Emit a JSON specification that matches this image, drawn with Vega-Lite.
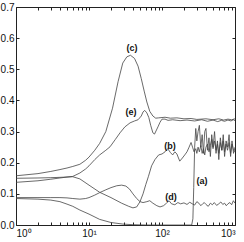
{
  "$schema": "https://vega.github.io/schema/vega-lite/v6.json",
  "width": 219,
  "height": 218,
  "autosize": "none",
  "padding": {"left": 16, "top": 7, "right": 9, "bottom": 17},
  "config": {
    "view": {"stroke": "#222", "strokeWidth": 1},
    "axis": {"labelFont": "Liberation Sans", "labelFontSize": 10, "labelColor": "#111", "tickColor": "#222", "grid": false, "domain": false, "title": null}
  },
  "datasets": {
    "lines": [
      {"s":"a","x":1,"y":0.085},{"s":"a","x":2,"y":0.083},{"s":"a","x":3,"y":0.08},{"s":"a","x":4,"y":0.075},{"s":"a","x":5,"y":0.067},{"s":"a","x":6,"y":0.06},{"s":"a","x":7.5,"y":0.048},{"s":"a","x":10,"y":0.035},{"s":"a","x":14,"y":0.018},{"s":"a","x":20,"y":0.008},{"s":"a","x":29,"y":0.003},{"s":"a","x":40,"y":0.001},{"s":"a","x":60,"y":0},{"s":"a","x":100,"y":0},{"s":"a","x":200,"y":0},{"s":"a","x":255,"y":0},{"s":"a","x":265,"y":0.02},{"s":"a","x":272,"y":0.12},{"s":"a","x":280,"y":0.25},{"s":"a","x":290,"y":0.31},{"s":"a","x":300,"y":0.27},{"s":"a","x":312,"y":0.3},{"s":"a","x":325,"y":0.32},{"s":"a","x":340,"y":0.25},{"s":"a","x":355,"y":0.29},{"s":"a","x":370,"y":0.23},{"s":"a","x":385,"y":0.3},{"s":"a","x":400,"y":0.31},{"s":"a","x":420,"y":0.24},{"s":"a","x":440,"y":0.28},{"s":"a","x":460,"y":0.22},{"s":"a","x":480,"y":0.29},{"s":"a","x":500,"y":0.25},{"s":"a","x":525,"y":0.3},{"s":"a","x":550,"y":0.23},{"s":"a","x":575,"y":0.27},{"s":"a","x":600,"y":0.21},{"s":"a","x":630,"y":0.28},{"s":"a","x":660,"y":0.24},{"s":"a","x":690,"y":0.29},{"s":"a","x":720,"y":0.22},{"s":"a","x":755,"y":0.27},{"s":"a","x":790,"y":0.25},{"s":"a","x":830,"y":0.29},{"s":"a","x":870,"y":0.22},{"s":"a","x":910,"y":0.27},{"s":"a","x":955,"y":0.23},{"s":"a","x":1000,"y":0.25},
      {"s":"b","x":1,"y":0.137},{"s":"b","x":2,"y":0.142},{"s":"b","x":3,"y":0.147},{"s":"b","x":4,"y":0.151},{"s":"b","x":5,"y":0.154},{"s":"b","x":6,"y":0.155},{"s":"b","x":7.5,"y":0.148},{"s":"b","x":10,"y":0.128},{"s":"b","x":14,"y":0.105},{"s":"b","x":20,"y":0.088},{"s":"b","x":28,"y":0.07},{"s":"b","x":35,"y":0.06},{"s":"b","x":40,"y":0.055},{"s":"b","x":45,"y":0.058},{"s":"b","x":50,"y":0.075},{"s":"b","x":55,"y":0.1},{"s":"b","x":60,"y":0.13},{"s":"b","x":65,"y":0.155},{"s":"b","x":72,"y":0.19},{"s":"b","x":80,"y":0.21},{"s":"b","x":90,"y":0.225},{"s":"b","x":100,"y":0.228},{"s":"b","x":110,"y":0.235},{"s":"b","x":120,"y":0.245},{"s":"b","x":130,"y":0.233},{"s":"b","x":140,"y":0.225},{"s":"b","x":150,"y":0.235},{"s":"b","x":160,"y":0.228},{"s":"b","x":175,"y":0.205},{"s":"b","x":190,"y":0.215},{"s":"b","x":205,"y":0.225},{"s":"b","x":220,"y":0.235},{"s":"b","x":235,"y":0.25},{"s":"b","x":250,"y":0.265},{"s":"b","x":262,"y":0.25},{"s":"b","x":275,"y":0.235},{"s":"b","x":290,"y":0.245},{"s":"b","x":300,"y":0.23},{"s":"b","x":312,"y":0.25},{"s":"b","x":325,"y":0.235},{"s":"b","x":340,"y":0.255},{"s":"b","x":355,"y":0.23},{"s":"b","x":370,"y":0.245},{"s":"b","x":385,"y":0.225},{"s":"b","x":400,"y":0.25},{"s":"b","x":420,"y":0.26},{"s":"b","x":440,"y":0.235},{"s":"b","x":460,"y":0.255},{"s":"b","x":480,"y":0.275},{"s":"b","x":500,"y":0.245},{"s":"b","x":525,"y":0.27},{"s":"b","x":550,"y":0.24},{"s":"b","x":575,"y":0.26},{"s":"b","x":600,"y":0.23},{"s":"b","x":630,"y":0.265},{"s":"b","x":660,"y":0.24},{"s":"b","x":690,"y":0.27},{"s":"b","x":720,"y":0.235},{"s":"b","x":755,"y":0.26},{"s":"b","x":790,"y":0.24},{"s":"b","x":830,"y":0.265},{"s":"b","x":870,"y":0.23},{"s":"b","x":910,"y":0.26},{"s":"b","x":955,"y":0.24},{"s":"b","x":1000,"y":0.235},
      {"s":"c","x":1,"y":0.158},{"s":"c","x":2,"y":0.165},{"s":"c","x":3,"y":0.172},{"s":"c","x":4,"y":0.178},{"s":"c","x":5,"y":0.183},{"s":"c","x":6,"y":0.188},{"s":"c","x":7.5,"y":0.195},{"s":"c","x":9,"y":0.208},{"s":"c","x":10,"y":0.218},{"s":"c","x":12,"y":0.24},{"s":"c","x":14,"y":0.262},{"s":"c","x":17,"y":0.3},{"s":"c","x":21,"y":0.375},{"s":"c","x":25,"y":0.46},{"s":"c","x":29,"y":0.52},{"s":"c","x":33,"y":0.54},{"s":"c","x":37,"y":0.545},{"s":"c","x":42,"y":0.535},{"s":"c","x":47,"y":0.51},{"s":"c","x":52,"y":0.47},{"s":"c","x":57,"y":0.43},{"s":"c","x":62,"y":0.395},{"s":"c","x":68,"y":0.365},{"s":"c","x":75,"y":0.35},{"s":"c","x":82,"y":0.343},{"s":"c","x":90,"y":0.344},{"s":"c","x":110,"y":0.346},{"s":"c","x":130,"y":0.343},{"s":"c","x":160,"y":0.344},{"s":"c","x":200,"y":0.341},{"s":"c","x":250,"y":0.342},{"s":"c","x":300,"y":0.339},{"s":"c","x":400,"y":0.341},{"s":"c","x":500,"y":0.338},{"s":"c","x":600,"y":0.341},{"s":"c","x":700,"y":0.337},{"s":"c","x":800,"y":0.34},{"s":"c","x":900,"y":0.338},{"s":"c","x":1000,"y":0.341},
      {"s":"d","x":1,"y":0.088},{"s":"d","x":2,"y":0.088},{"s":"d","x":3,"y":0.088},{"s":"d","x":4,"y":0.088},{"s":"d","x":5,"y":0.087},{"s":"d","x":6,"y":0.085},{"s":"d","x":7.5,"y":0.083},{"s":"d","x":9,"y":0.085},{"s":"d","x":10,"y":0.088},{"s":"d","x":12,"y":0.096},{"s":"d","x":14,"y":0.104},{"s":"d","x":17,"y":0.113},{"s":"d","x":20,"y":0.12},{"s":"d","x":24,"y":0.126},{"s":"d","x":28,"y":0.128},{"s":"d","x":32,"y":0.125},{"s":"d","x":36,"y":0.115},{"s":"d","x":40,"y":0.1},{"s":"d","x":45,"y":0.085},{"s":"d","x":50,"y":0.075},{"s":"d","x":55,"y":0.072},{"s":"d","x":62,"y":0.075},{"s":"d","x":68,"y":0.078},{"s":"d","x":75,"y":0.07},{"s":"d","x":85,"y":0.062},{"s":"d","x":94,"y":0.058},{"s":"d","x":105,"y":0.062},{"s":"d","x":115,"y":0.07},{"s":"d","x":125,"y":0.078},{"s":"d","x":135,"y":0.068},{"s":"d","x":150,"y":0.065},{"s":"d","x":165,"y":0.072},{"s":"d","x":180,"y":0.068},{"s":"d","x":200,"y":0.071},{"s":"d","x":220,"y":0.066},{"s":"d","x":240,"y":0.073},{"s":"d","x":260,"y":0.068},{"s":"d","x":280,"y":0.064},{"s":"d","x":300,"y":0.075},{"s":"d","x":320,"y":0.07},{"s":"d","x":340,"y":0.062},{"s":"d","x":360,"y":0.068},{"s":"d","x":380,"y":0.072},{"s":"d","x":400,"y":0.066},{"s":"d","x":430,"y":0.06},{"s":"d","x":460,"y":0.07},{"s":"d","x":490,"y":0.065},{"s":"d","x":520,"y":0.072},{"s":"d","x":560,"y":0.063},{"s":"d","x":600,"y":0.068},{"s":"d","x":640,"y":0.074},{"s":"d","x":680,"y":0.066},{"s":"d","x":720,"y":0.07},{"s":"d","x":760,"y":0.062},{"s":"d","x":800,"y":0.068},{"s":"d","x":850,"y":0.072},{"s":"d","x":900,"y":0.065},{"s":"d","x":950,"y":0.078},{"s":"d","x":1000,"y":0.07},
      {"s":"e","x":1,"y":0.15},{"s":"e","x":2,"y":0.151},{"s":"e","x":3,"y":0.152},{"s":"e","x":4,"y":0.153},{"s":"e","x":5,"y":0.154},{"s":"e","x":6,"y":0.156},{"s":"e","x":7.5,"y":0.167},{"s":"e","x":9,"y":0.18},{"s":"e","x":10,"y":0.19},{"s":"e","x":12,"y":0.21},{"s":"e","x":14,"y":0.225},{"s":"e","x":17,"y":0.24},{"s":"e","x":19.4,"y":0.251},{"s":"e","x":23,"y":0.275},{"s":"e","x":26.6,"y":0.296},{"s":"e","x":31,"y":0.315},{"s":"e","x":36.5,"y":0.328},{"s":"e","x":42,"y":0.334},{"s":"e","x":47,"y":0.338},{"s":"e","x":52,"y":0.35},{"s":"e","x":55,"y":0.363},{"s":"e","x":58,"y":0.368},{"s":"e","x":62,"y":0.36},{"s":"e","x":66,"y":0.345},{"s":"e","x":70,"y":0.32},{"s":"e","x":75,"y":0.296},{"s":"e","x":79,"y":0.292},{"s":"e","x":84,"y":0.305},{"s":"e","x":88,"y":0.315},{"s":"e","x":94,"y":0.33},{"s":"e","x":100,"y":0.34},{"s":"e","x":110,"y":0.34},{"s":"e","x":121,"y":0.336},{"s":"e","x":140,"y":0.338},{"s":"e","x":177,"y":0.335},{"s":"e","x":220,"y":0.337},{"s":"e","x":280,"y":0.334},{"s":"e","x":350,"y":0.338},{"s":"e","x":420,"y":0.333},{"s":"e","x":500,"y":0.337},{"s":"e","x":580,"y":0.332},{"s":"e","x":650,"y":0.336},{"s":"e","x":720,"y":0.333},{"s":"e","x":800,"y":0.337},{"s":"e","x":880,"y":0.334},{"s":"e","x":950,"y":0.338},{"s":"e","x":1000,"y":0.335}
    ],
    "labels": [
      {"t":"(a)","x":353,"y":0.141},
      {"t":"(b)","x":129,"y":0.254},
      {"t":"(c)","x":38.7,"y":0.569},
      {"t":"(d)","x":133,"y":0.091},
      {"t":"(e)","x":37.6,"y":0.363}
    ]
  },
  "layer": [
    {
      "data": {"name": "lines"},
      "mark": {"type": "line", "stroke": "#444", "strokeWidth": 0.8},
      "encoding": {
        "x": {"field": "x", "type": "quantitative", "scale": {"type": "log", "domain": [1, 1000]},
          "axis": {"orient": "bottom", "values": [1,2,3,4,5,6,7,8,9,10,20,30,40,50,60,70,80,90,100,200,300,400,500,600,700,800,900,1000], "labelExpr": "datum.value==1?'10⁰':datum.value==10?'10¹':datum.value==100?'10²':datum.value==1000?'10³':''", "labelOverlap": false, "tickSize": -3, "labelPadding": 6}},
        "y": {"field": "y", "type": "quantitative", "scale": {"domain": [0, 0.7]},
          "axis": {"orient": "left", "values": [0,0.1,0.2,0.3,0.4,0.5,0.6,0.7], "format": ".1f", "tickSize": -3, "labelPadding": 5}},
        "detail": {"field": "s"}
      }
    },
    {
      "data": {"name": "labels"},
      "mark": {"type": "text", "font": "Liberation Sans", "fontWeight": "bold", "fontSize": 9, "color": "#111"},
      "encoding": {
        "x": {"field": "x", "type": "quantitative", "scale": {"type": "log", "domain": [1, 1000]},
          "axis": {"orient": "top", "values": [1,2,3,4,5,6,7,8,9,10,20,30,40,50,60,70,80,90,100,200,300,400,500,600,700,800,900,1000], "labels": false, "tickSize": -3}},
        "y": {"field": "y", "type": "quantitative", "scale": {"domain": [0, 0.7]},
          "axis": {"orient": "right", "values": [0,0.1,0.2,0.3,0.4,0.5,0.6,0.7], "labels": false, "tickSize": -3}},
        "text": {"field": "t"}
      }
    }
  ],
  "resolve": {"axis": {"x": "independent", "y": "independent"}}
}
